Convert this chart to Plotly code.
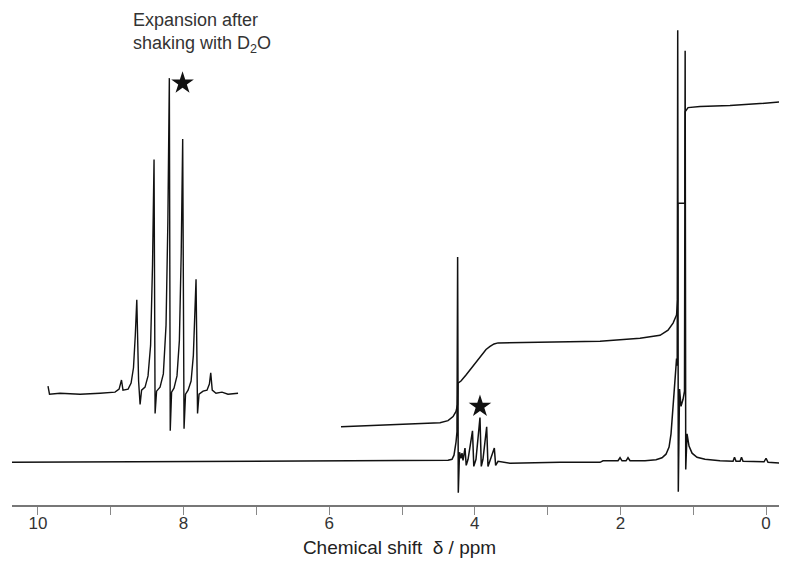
import plotly.graph_objects as go

# ---- Main 1H NMR spectrum (chemical shift in ppm, intensity in arbitrary units) ----
spec_ppm = [10.36, 9.148, 7.775, 6.401, 4.368, 4.313, 4.286, 4.258, 4.245, 4.236, 4.227,
            4.210, 4.190, 4.176, 4.162, 4.135, 4.118, 4.093, 4.032, 4.014, 3.984, 3.929,
            3.911, 3.888, 3.837, 3.819, 3.791, 3.732, 3.714, 3.681, 3.516, 2.830, 2.280,
            2.239, 2.033, 2.005, 1.978, 1.923, 1.896, 1.868, 1.662, 1.511, 1.429, 1.374,
            1.332, 1.305, 1.277, 1.250, 1.229, 1.220, 1.213, 1.205, 1.188, 1.168, 1.140,
            1.120, 1.111, 1.103, 1.085, 1.058, 1.016, 0.948, 0.838, 0.632, 0.453, 0.433,
            0.412, 0.357, 0.337, 0.316, 0.027, 0.000, -0.027, -0.288]
spec_int = [0, 0.5, 1, 1.5, 2, 3, 7, 20, 30, 202, -30,
            10, 4, 9, 2, 14, -3, 3, 31, -4, 3, 44,
            -4, 3, 35, -4, 2, 14, -3, 1, -1, 0, 0,
            1.5, 1.5, 4.5, 1.5, 1.5, 4.5, 1.5, 1.5, 2.5, 4.5, 8,
            15, 28, 55, 88, 102, 95, 425, -29, 72, 55, 62,
            70, 405, -7, 28, 16, 9, 5, 3, 1.5, 1, 5,
            1, 1, 5, 1, 0.5, 4, 0, -1]

# ---- Integration trace ----
integ_ppm = [5.838, 5.027, 4.478, 4.368, 4.299, 4.258, 4.237, 4.231, 4.190, 4.121, 4.066,
             4.011, 3.956, 3.901, 3.846, 3.791, 3.736, 3.681, 3.104, 2.280, 1.731, 1.456,
             1.346, 1.277, 1.229, 1.213, 1.212, 1.114, 1.110, 1.071, 0.907, 0.495, 0.082, -0.288]
integ_val = [35, 37, 39, 41, 45, 50, 57, 78, 80, 86, 91,
             97, 102, 107, 111, 114, 116.5, 117.5, 118, 119, 122, 125,
             130, 137, 145, 160, 255, 255, 345, 349, 350, 351, 353, 355]

# ---- Expansion of the CH2 multiplet after shaking with D2O ----
exp_ppm = [4.739, 4.729, 4.659, 4.525, 4.392, 4.292, 4.265, 4.249, 4.239, 4.205, 4.185,
           4.169, 4.157, 4.147, 4.135, 4.125, 4.115, 4.092, 4.072, 4.055, 4.042, 4.032,
           4.025, 4.015, 3.992, 3.970, 3.952, 3.940, 3.930, 3.924, 3.915, 3.899, 3.879,
           3.863, 3.851, 3.841, 3.832, 3.822, 3.805, 3.785, 3.770, 3.760, 3.752, 3.742,
           3.732, 3.705, 3.679, 3.663, 3.654, 3.644, 3.619, 3.579, 3.539, 3.472]
exp_int = [5, -3, -2, -3, -2, -1, 2, 11, 1, 2, 8,
           23, 55, 90, 10, -13, 1, 4, 15, 45, 125, 228,
           -22, 0, 4, 17, 65, 165, 308, -39, -1, 3, 15,
           50, 135, 248, -37, -3, 1, 10, 35, 75, 110, -22,
           -3, 0, 1, 7, 18, 1, -2, -1, -3, -2]

# ---- Star markers ----
star_main_ppm = [3.929]
star_main_int = [55]
star_exp_ppm = [3.842]
star_exp_int = [303]

major_ticks = [0, 2, 4, 6, 8, 10]
major_labels = ["0", "2", "4", "6", "8", "10"]
minor_ticks = [1, 3, 5, 7, 9]

FONT = "Liberation Sans, Arial, sans-serif"
ink = "#111111"

fig = go.Figure()
fig.add_trace(go.Scatter(x=spec_ppm, y=spec_int, mode="lines",
                         line=dict(color=ink, width=1.5), showlegend=False, hoverinfo="skip"))
fig.add_trace(go.Scatter(x=integ_ppm, y=integ_val, mode="lines",
                         line=dict(color=ink, width=1.5), showlegend=False, hoverinfo="skip"))
fig.add_trace(go.Scatter(x=star_main_ppm, y=star_main_int, mode="markers",
                         marker=dict(symbol="star", size=17, color=ink), showlegend=False))
fig.add_trace(go.Scatter(x=exp_ppm, y=exp_int, mode="lines", xaxis="x2", yaxis="y2",
                         line=dict(color=ink, width=1.4), showlegend=False, hoverinfo="skip"))
fig.add_trace(go.Scatter(x=star_exp_ppm, y=star_exp_int, mode="markers", xaxis="x2", yaxis="y2",
                         marker=dict(symbol="star", size=17, color=ink), showlegend=False))

fig.update_layout(
    width=779, height=553,
    margin=dict(l=4, r=0, t=0, b=56),
    paper_bgcolor="white", plot_bgcolor="white",
    font=dict(family=FONT, color="#333333"),
    xaxis=dict(range=[10.357, -0.288], showgrid=False, zeroline=False,
               showline=True, linecolor="#777777", linewidth=2,
               ticks="outside", ticklen=8, tickwidth=1.2, tickcolor="#888888",
               tickvals=major_ticks, ticktext=major_labels, ticklabelstandoff=-6,
               minor=dict(tickvals=minor_ticks, ticks="outside", ticklen=8, tickwidth=1.2,
                          tickcolor="#888888", showgrid=False),
               tickfont=dict(size=17, color="#333333", family=FONT),
               title=dict(text="Chemical shift  δ / ppm", standoff=8,
                          font=dict(size=19, color="#222222", family=FONT))),
    yaxis=dict(range=[-42, 447], visible=False),
    xaxis2=dict(range=[4.979, -0.188], overlaying="x", visible=False),
    yaxis2=dict(range=[-112, 377], overlaying="y", visible=False),
    annotations=[dict(text="Expansion after<br>shaking with D<sub>2</sub>O",
                      xref="paper", yref="paper", x=0.1535, y=1.0,
                      xanchor="left", yanchor="top", align="left", showarrow=False,
                      font=dict(size=18, color="#333333", family=FONT))],
)

fig.write_html("out.html")
